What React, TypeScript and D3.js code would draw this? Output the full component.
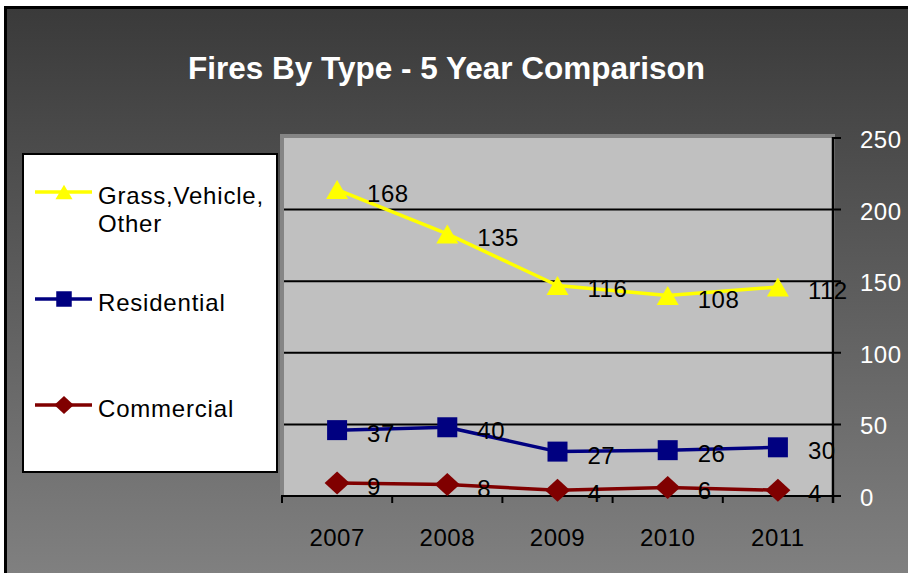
import React from "react";
import * as d3 from "d3";

const years = ["2007", "2008", "2009", "2010", "2011"];
const grass = [168, 135, 116, 108, 112];
const residential = [37, 40, 27, 26, 30];
const commercial = [9, 8, 4, 6, 4];
const yTicks = [0, 50, 100, 150, 200, 250];

const seriesInfo = [
  { key: "commercial", name: "Commercial", color: "#800000", marker: "diamond" },
  { key: "residential", name: "Residential", color: "#000080", marker: "square" },
  { key: "grass", name: "Grass,Vehicle,|Other", color: "#FFFF00", marker: "triangle" },
];

const W = 908;
const H = 573;
const FONT = "'Liberation Sans', Arial, sans-serif";

function markerPath(type: string, cx: number, cy: number, s: number) {
  if (type === "triangle") {
    const w = s * 1.1, h = s * 0.95;
    return `M${cx},${cy - h / 2}L${cx + w / 2},${cy + h / 2}L${cx - w / 2},${cy + h / 2}Z`;
  }
  if (type === "square") {
    const w = s;
    return `M${cx - w / 2},${cy - w / 2}h${w}v${w}h${-w}Z`;
  }
  const w = s * 1.25 / 2, h = s * 1.15 / 2;
  return `M${cx},${cy - h}L${cx + w},${cy}L${cx},${cy + h}L${cx - w},${cy}Z`;
}

export default function App() {
  const rows = years.map((y, i) => ({
    year: y,
    commercial: commercial[i],
    residential: residential[i],
    grass: grass[i],
  }));
  const stack = d3.stack<any>().keys(seriesInfo.map((s) => s.key));
  const stacked = stack(rows);

  const x = d3.scaleBand().domain(years).range([282, 833]);
  const y = d3.scaleLinear().domain([0, 250]).range([496, 138]);
  const cx = (yr: string) => (x(yr) as number) + x.bandwidth() / 2;

  const line = d3
    .line<any>()
    .x((d) => cx(d.data.year))
    .y((d) => y(d[1]));

  const legendY = [192, 299, 405];
  const legendOrder = [2, 1, 0];

  return (
    <svg
      width={W}
      height={H}
      style={{ position: "absolute", left: 0, top: 0, display: "block" }}
      fontFamily={FONT}
    >
      <defs>
        <linearGradient id="bg" x1="0" y1="0" x2="0" y2="1">
          <stop offset="0" stopColor="#3a3a3a" />
          <stop offset="1" stopColor="#828282" />
        </linearGradient>
      </defs>
      <rect x={0} y={0} width={W} height={H} fill="#ffffff" />
      <rect x={5.5} y={7.5} width={W + 10} height={H + 10} fill="url(#bg)" stroke="#000" strokeWidth={3} />

      {/* Title */}
      <text
        x={446.5}
        y={79}
        textAnchor="middle"
        fill="#ffffff"
        fontWeight="bold"
        fontSize={31}
        textLength={517}
        lengthAdjust="spacingAndGlyphs"
      >
        Fires By Type - 5 Year Comparison
      </text>

      {/* Plot area */}
      <rect x={280} y={134} width={555} height={362} fill="#858585" />
      <rect x={284} y={138} width={548} height={358} fill="#c0c0c0" />

      {/* Gridlines & right axis ticks */}
      {yTicks.map((t) => (
        <g key={t}>
          {t > 0 && t < 250 && (
            <line x1={284} x2={841} y1={y(t)} y2={y(t)} stroke="#000" strokeWidth={2} />
          )}
          {t === 250 && <line x1={832} x2={841} y1={y(t)} y2={y(t)} stroke="#000" strokeWidth={2} />}
          <text x={860} y={y(t) + 10} fill="#ffffff" fontSize={24} letterSpacing={0.5}>
            {t}
          </text>
        </g>
      ))}
      {/* right axis line */}
      <line x1={833} x2={833} y1={137} y2={503} stroke="#000" strokeWidth={2.5} />
      {/* x axis */}
      <line x1={281} x2={841} y1={496} y2={496} stroke="#000" strokeWidth={2} />
      {[...years.map((yr) => x(yr) as number), 833].map((tx, i) => (
        <line key={i} x1={tx} x2={tx} y1={496} y2={503} stroke="#000" strokeWidth={2} />
      ))}
      {years.map((yr) => (
        <text key={yr} x={cx(yr)} y={546} textAnchor="middle" fill="#000" fontSize={24} letterSpacing={0.5}>
          {yr}
        </text>
      ))}

      {/* Lines */}
      {stacked.map((s, si) => (
        <path
          key={s.key}
          d={line(s as any) as string}
          fill="none"
          stroke={seriesInfo[si].color}
          strokeWidth={3.5}
          strokeLinejoin="round"
        />
      ))}
      {/* Markers */}
      {stacked.map((s, si) =>
        s.map((d: any, i: number) => (
          <path
            key={s.key + i}
            d={markerPath(seriesInfo[si].marker, cx(d.data.year), y(d[1]), 20)}
            fill={seriesInfo[si].color}
          />
        ))
      )}
      {/* Data labels */}
      {stacked.map((s, si) =>
        s.map((d: any, i: number) => (
          <text
            key={"l" + s.key + i}
            x={cx(d.data.year) + 30}
            y={y(d[1]) + 12}
            fill="#000"
            fontSize={24}
            letterSpacing={0.5}
          >
            {d.data[s.key]}
          </text>
        ))
      )}

      {/* Legend */}
      <rect x={23} y={154} width={254} height={318} fill="#ffffff" stroke="#000" strokeWidth={2} />
      {legendOrder.map((si, k) => {
        const info = seriesInfo[si];
        const ly = legendY[k];
        const lines = info.name.split("|");
        return (
          <g key={info.key}>
            <line x1={35} x2={92} y1={ly} y2={ly} stroke={info.color} strokeWidth={3.5} />
            <path d={markerPath(info.marker, 64, ly, 15.5)} fill={info.color} />
            {lines.map((ln, j) => (
              <text key={j} x={98} y={ly + 12 + j * 27.5} fill="#000" fontSize={24} letterSpacing={0.8}>
                {ln}
              </text>
            ))}
          </g>
        );
      })}
    </svg>
  );
}
